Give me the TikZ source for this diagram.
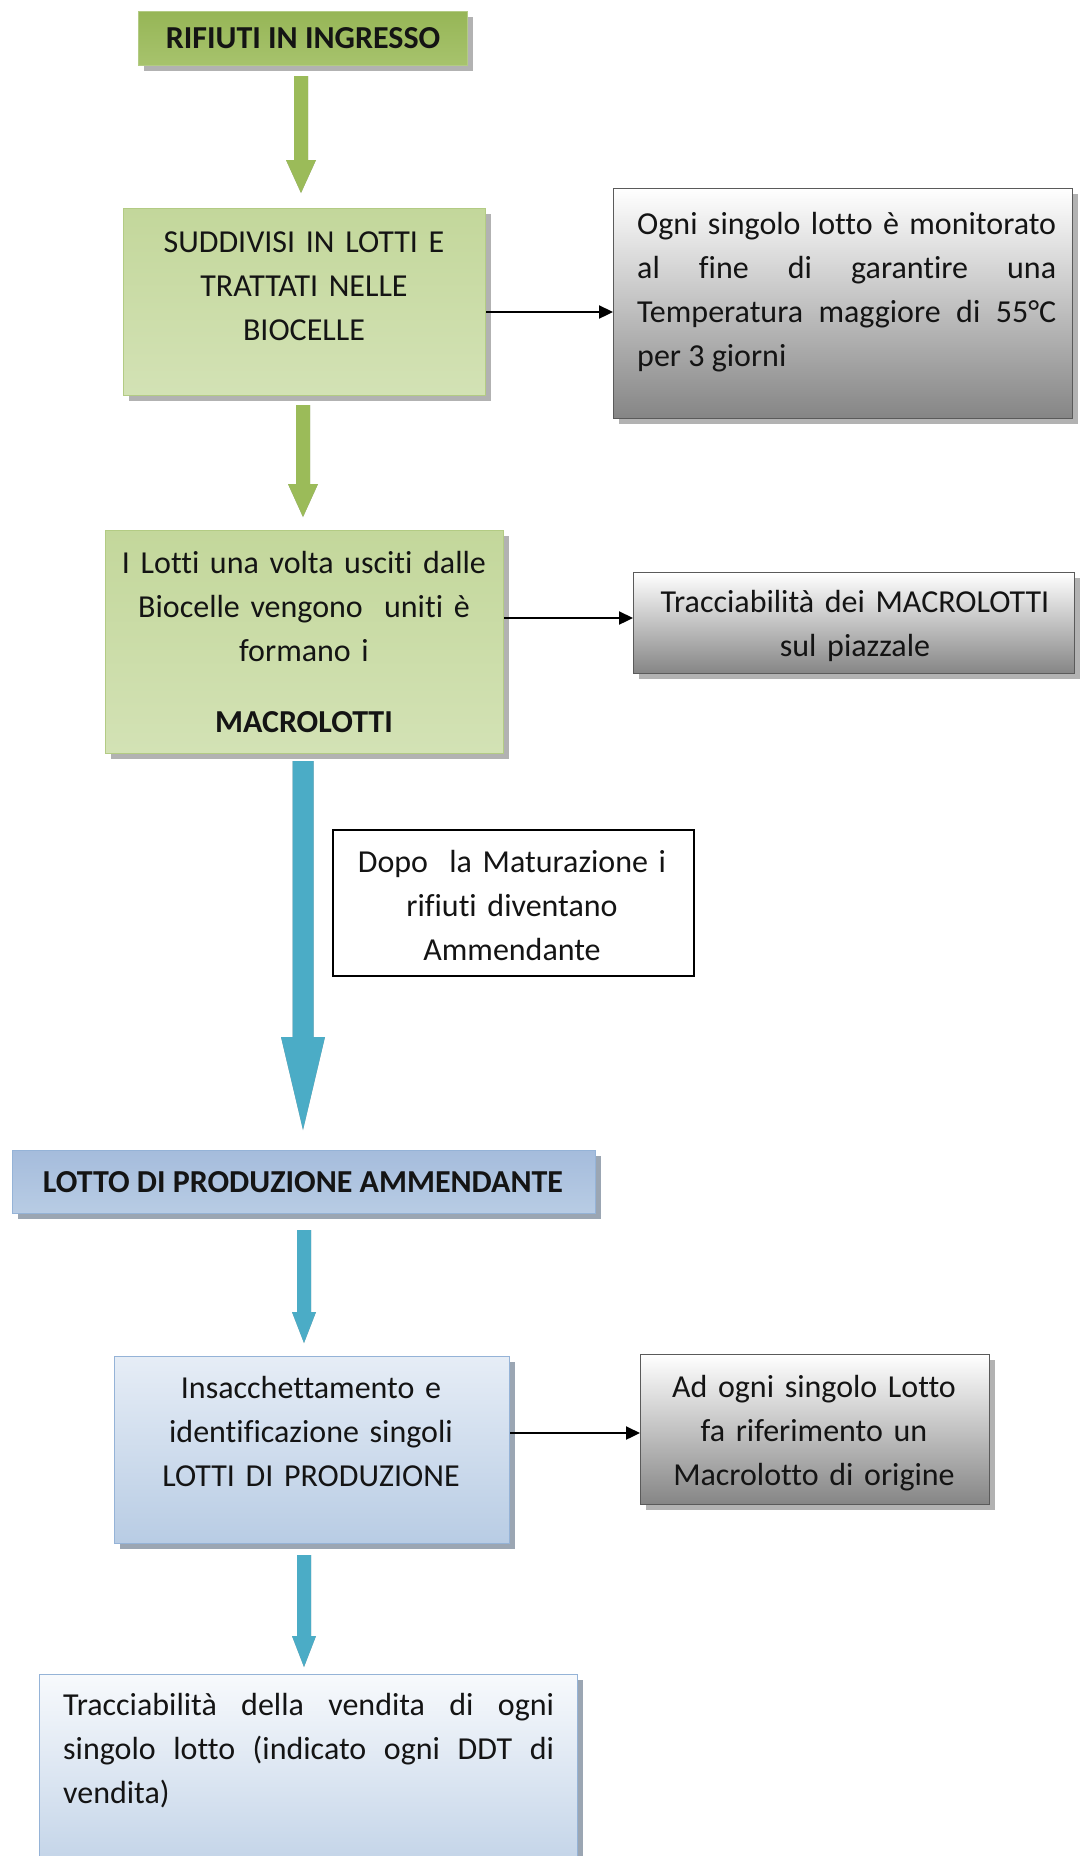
\documentclass[tikz,border=0pt]{standalone}
\usepackage{fontspec}
\setmainfont[Ligatures={NoCommon}]{Carlito}
\usetikzlibrary{arrows.meta,shadows,calc}
\definecolor{greenA}{HTML}{9BBB59}
\definecolor{greenEdge}{HTML}{B3CB84}
\definecolor{gtop}{HTML}{C3D79B}
\definecolor{gmid}{HTML}{E6EED6}
\definecolor{gbot}{HTML}{D3E2B5}
\definecolor{cyanA}{HTML}{4BACC6}
\definecolor{ashadow}{HTML}{A3A3A3}
\definecolor{grayEdge}{HTML}{5A5A5A}
\definecolor{grayBot}{HTML}{858585}
\definecolor{blueEdge}{HTML}{95B3D7}
\definecolor{bTop}{HTML}{A5BCDC}
\definecolor{bMid}{HTML}{DCE6F2}
\definecolor{bBot}{HTML}{B8CCE4}
\definecolor{bLight}{HTML}{E6EDF6}
\tikzset{
  box/.style={rectangle, inner sep=0pt, anchor=north west, line width=1.2pt},
  bshadow/.style={drop shadow={shadow xshift=5pt, shadow yshift=-5pt, fill=black, opacity=0.3}},
  greenhead/.style={box, bshadow, draw=greenEdge, top color=greenA!97!black, bottom color=greenA!88!white},
  greenbox/.style={box, bshadow, draw=greenEdge, top color=gtop, middle color=gmid, bottom color=gbot},
  graybox/.style={box, bshadow, draw=grayEdge, top color=white, bottom color=grayBot},
  bluehead/.style={box, draw=blueEdge, top color=bTop, middle color=bMid, bottom color=bBot,
     drop shadow={shadow xshift=5pt, shadow yshift=-5pt, fill=blueEdge!60!black, opacity=0.6}},
  bluebox/.style={box, draw=blueEdge, top color=bLight, bottom color=bBot,
     drop shadow={shadow xshift=5pt, shadow yshift=-5pt, fill=blueEdge!60!black, opacity=0.6}},
  plainbox/.style={box, draw=black, line width=1.6pt, fill=white},
  txt/.style={inner sep=0pt, font=\fontsize{32pt}{44pt}\selectfont, text=black!92},
  conn/.style={line width=2.3pt, -{Triangle[length=14pt,width=13pt]}},
}
\newcommand\blockarrow[6]{%
  \fill[ashadow, shift={(3pt,-3pt)}] let \p1=(#1), \p2=(#2) in
    (\x1-#3pt,\y1) -- (\x1+#3pt,\y1) -- (\x1+#3pt,\y2+#5pt) -- (\x1+#4pt,\y2+#5pt)
    -- (\x1,\y2) -- (\x1-#4pt,\y2+#5pt) -- (\x1-#3pt,\y2+#5pt) -- cycle;
  \fill[#6] let \p1=(#1), \p2=(#2) in
    (\x1-#3pt,\y1) -- (\x1+#3pt,\y1) -- (\x1+#3pt,\y2+#5pt) -- (\x1+#4pt,\y2+#5pt)
    -- (\x1,\y2) -- (\x1-#4pt,\y2+#5pt) -- (\x1-#3pt,\y2+#5pt) -- cycle;
}
\begin{document}
\begin{tikzpicture}[x=1pt,y=-1pt]
\useasboundingbox (0,0) rectangle (1080,1856);
\clip (0,0) rectangle (1080,1856);

% boxes
\node[greenhead, minimum width=329pt, minimum height=54pt] (b1) at (138,11) {};
\node[txt, anchor=base] (t1) at (303,48) {\bfseries RIFIUTI IN INGRESSO};

\node[greenbox, minimum width=362pt, minimum height=187pt] (b2) at (123,208) {};
\node[txt, anchor=base, text width=350pt, align=center] (t2) at (304,252)
  {SUDDIVISI IN LOTTI E\\TRATTATI NELLE\\BIOCELLE};

\node[graybox, minimum width=459pt, minimum height=230pt] (g1) at (613,188) {};
\node[txt, anchor=base west, text width=419pt, align=justify] (tg1) at (637,234)
  {Ogni singolo lotto è monitorato\linebreak al fine di garantire una\linebreak Temperatura maggiore di 55°C\linebreak per 3 giorni};

\node[greenbox, minimum width=398pt, minimum height=223pt] (b3) at (105,530) {};
\node[txt, anchor=base, text width=390pt, align=center] (t3) at (304,573)
  {I Lotti una volta usciti dalle\\Biocelle vengono\ \ uniti è\\formano i\\[27pt]\bfseries MACROLOTTI};

\node[graybox, minimum width=441pt, minimum height=101pt] (g2) at (633,572) {};
\node[txt, anchor=base, text width=430pt, align=center] (tg2) at (855,612)
  {Tracciabilità dei MACROLOTTI\\sul piazzale};

\node[plainbox, minimum width=361pt, minimum height=146pt] (d) at (332,829) {};
\node[txt, anchor=base, text width=350pt, align=center] (td) at (512,872)
  {Dopo\ \ la Maturazione i\\rifiuti diventano\\Ammendante};

\node[bluehead, minimum width=583pt, minimum height=63pt] (l) at (12,1150) {};
\node[txt, anchor=base] (tl) at (303,1192) {\bfseries LOTTO DI PRODUZIONE AMMENDANTE};

\node[bluebox, minimum width=395pt, minimum height=187pt] (ins) at (114,1356) {};
\node[txt, anchor=base, text width=385pt, align=center] (tins) at (311,1398)
  {Insacchettamento e\\identificazione singoli\\LOTTI DI PRODUZIONE};

\node[graybox, minimum width=349pt, minimum height=150pt] (g3) at (640,1354) {};
\node[txt, anchor=base, text width=340pt, align=center] (tg3) at (814,1397)
  {Ad ogni singolo Lotto\\fa riferimento un\\Macrolotto di origine};

\node[bluebox, top color=white!70!bLight, bottom color=bBot, minimum width=538pt, minimum height=230pt] (tr) at (39,1674) {};
\node[txt, anchor=base west, text width=491pt, align=justify] (ttr) at (63,1715)
  {Tracciabilità della vendita di ogni\linebreak singolo lotto (indicato ogni DDT di\linebreak vendita)};

% block arrows
\coordinate (a1s) at (301,76);   \coordinate (a1e) at (301,193);
\coordinate (a2s) at (303,405);  \coordinate (a2e) at (303,517);
\coordinate (a3s) at (303,761);  \coordinate (a3e) at (303,1130);
\coordinate (a4s) at (304,1230); \coordinate (a4e) at (304,1343);
\coordinate (a5s) at (304,1555); \coordinate (a5e) at (304,1667);
\blockarrow{a1s}{a1e}{7}{15}{33}{greenA}
\blockarrow{a2s}{a2e}{7}{15}{33}{greenA}
\blockarrow{a3s}{a3e}{10.5}{22}{93}{cyanA}
\blockarrow{a4s}{a4e}{7}{12}{31}{cyanA}
\blockarrow{a5s}{a5e}{7}{12}{31}{cyanA}

% connectors
\draw[conn] (b2.east |- 0,312) -- (g1.west |- 0,312);
\draw[conn] (b3.east |- 0,618) -- (g2.west |- 0,618);
\draw[conn] (ins.east |- 0,1433) -- (g3.west |- 0,1433);
\end{tikzpicture}
\end{document}
